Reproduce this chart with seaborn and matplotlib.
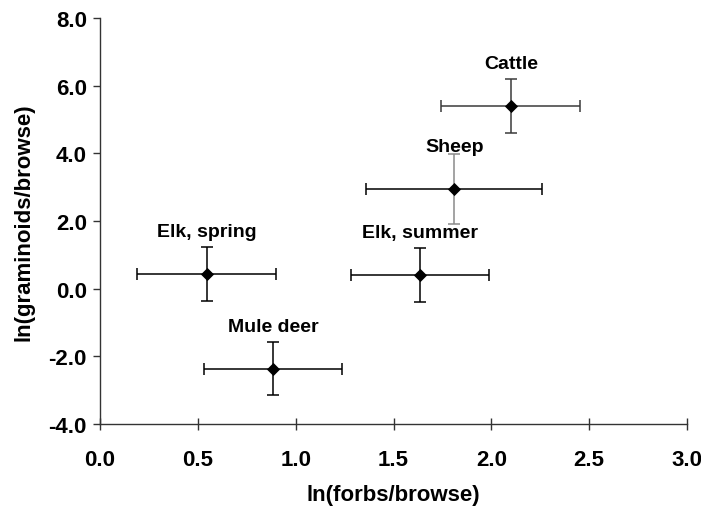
import pandas as pd
import seaborn as sns
import matplotlib.pyplot as plt

# values
animals = ["Cattle", "Sheep", "Elk, summer", "Elk, spring", "Mule deer"]
forbs_browse = [2.10, 1.81, 1.635, 0.545, 0.886]
forbs_err = [0.355, 0.45, 0.353, 0.355, 0.353]
graminoids_browse = [5.39, 2.94, 0.40, 0.43, -2.36]
graminoids_err = [0.80, 1.03, 0.80, 0.79, 0.79]
# the original draws a couple of bars in grey
xerr_colors = ["#3a3a3a", "black", "black", "black", "black"]
yerr_colors = ["#3a3a3a", "#8a8a8a", "black", "black", "black"]

df = pd.DataFrame({
    "animal": animals,
    "x": forbs_browse,
    "y": graminoids_browse,
    "xerr": forbs_err,
    "yerr": graminoids_err,
})

sns.set_style("ticks")
plt.rcParams["font.family"] = ["Liberation Sans", "DejaVu Sans"]
plt.rcParams["font.weight"] = "bold"
plt.rcParams["text.color"] = "black"
plt.rcParams["axes.labelcolor"] = "black"
plt.rcParams["xtick.color"] = "black"
plt.rcParams["ytick.color"] = "black"

fig = plt.figure(figsize=(7.01, 5.10), dpi=100)
ax = fig.add_axes([0.1427, 0.1667, 0.8373, 0.796])

# error bars first, markers on top
for i, row in df.iterrows():
    ax.errorbar(row["x"], row["y"], xerr=row["xerr"], fmt="none",
                ecolor=xerr_colors[i], elinewidth=1.1, capsize=4.5, capthick=1.1)
    ax.errorbar(row["x"], row["y"], yerr=row["yerr"], fmt="none",
                ecolor=yerr_colors[i], elinewidth=1.1, capsize=4.5, capthick=1.1)

sns.scatterplot(data=df, x="x", y="y", marker="D", s=45, color="black",
                edgecolor="black", linewidth=0, zorder=3, ax=ax)

for _, row in df.iterrows():
    ax.annotate(row["animal"], (row["x"], row["y"]), xytext=(0, 30.5),
                textcoords="offset points", ha="center", va="center",
                fontsize=14, fontweight="bold")

ax.set_xlim(0, 3.0)
ax.set_ylim(-4.0, 8.0)
ax.set_xticks([0.0, 0.5, 1.0, 1.5, 2.0, 2.5, 3.0])
ax.set_yticks([-4.0, -2.0, 0.0, 2.0, 4.0, 6.0, 8.0])
ax.set_xticklabels([f"{v:.1f}" for v in ax.get_xticks()], fontsize=16, fontweight="bold")
ax.set_yticklabels([f"{v:.1f}" for v in ax.get_yticks()], fontsize=16, fontweight="bold")
ax.tick_params(axis="x", direction="inout", length=8, width=1, color="#333333", pad=14)
ax.tick_params(axis="y", direction="out", length=5, width=1, color="#333333", pad=4.5)

ax.set_xlabel("ln(forbs/browse)", fontsize=16, fontweight="bold", labelpad=10)
ax.set_ylabel("ln(graminoids/browse)", fontsize=16, fontweight="bold", labelpad=10)

sns.despine(ax=ax)
for side in ["left", "bottom"]:
    ax.spines[side].set_color("#333333")
    ax.spines[side].set_linewidth(1)

plt.savefig("out.png", dpi=100)
